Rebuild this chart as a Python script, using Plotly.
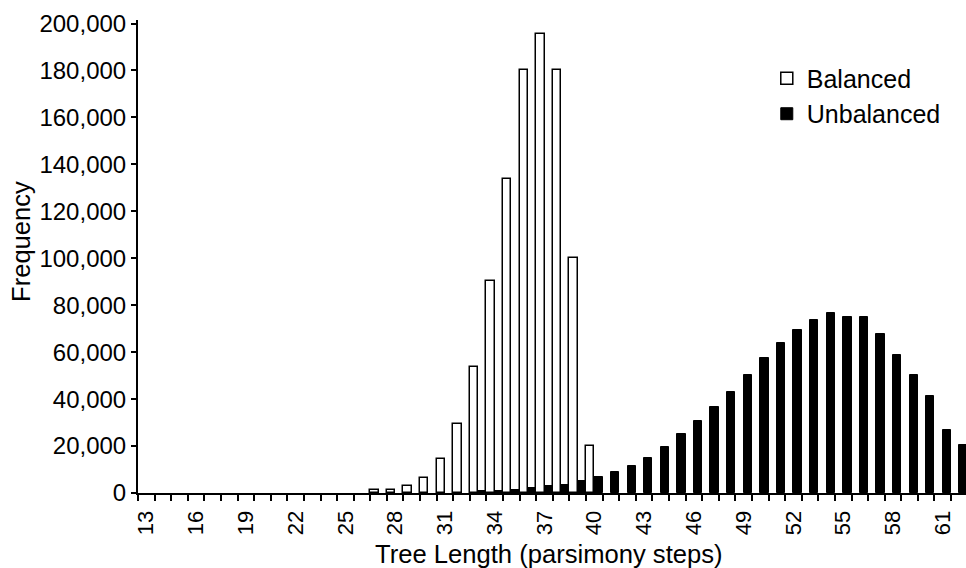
import plotly.graph_objects as go

# Data (None = no bar drawn)
tree_length = list(range(13, 63))
balanced = [None]*14 + [1200, 1200, 2800, 6500, 14600, 29300, 53700, 90200, 133600,
                        180000, 195500, 180000, 100000, 20000] + [None]*22
unbalanced = [None]*20 + [1000, 1000, 1200, 2000, 3000, 3200, 5000, 6800, 9000, 11400,
                          14900, 19600, 25000, 30500, 36700, 43200, 50400, 57600, 64000,
                          69500, 73800, 76600, 74900, 74900, 67600, 58600, 50400, 41200,
                          26700, 20300]
x_tick_vals = list(range(13, 62, 3))
y_tick_vals = list(range(0, 200001, 20000))

FONT = "Liberation Sans, Arial, Helvetica, sans-serif"

fig = go.Figure()
fig.add_trace(go.Bar(x=tree_length, y=balanced, name="Balanced",
                     marker=dict(color="white", line=dict(color="black", width=1.5))))
fig.add_trace(go.Bar(x=tree_length, y=unbalanced, name="Unbalanced",
                     marker=dict(color="black", line=dict(color="black", width=1))))

L, R, T, B = 138, 0, 20, 75
W, H = 966, 568
ph = H - T - B

fig.update_layout(
    width=W, height=H,
    margin=dict(l=L, r=R, t=T, b=B, pad=0),
    paper_bgcolor="white", plot_bgcolor="white",
    barmode="group", bargap=0, bargroupgap=0,
    font=dict(family=FONT, color="black"),
    showlegend=True,
    legend=dict(x=0.7594, y=0.925, xanchor="left", yanchor="top",
                font=dict(size=25, family=FONT), bgcolor="rgba(0,0,0,0)",
                tracegroupgap=0, itemwidth=30),
    xaxis=dict(range=[12.5, 62.4], tickmode="array", tickvals=x_tick_vals,
               tickangle=-90, tickfont=dict(size=22, family=FONT),
               ticks="outside", ticklen=7, tickcolor="rgba(0,0,0,0)",
               showline=True, linecolor="black", linewidth=2,
               showgrid=False, zeroline=False,
               minor=dict(tickmode="array",
                          tickvals=[v + 0.5 for v in range(12, 62)],
                          ticks="outside", ticklen=6, tickwidth=2, tickcolor="black",
                          showgrid=False)),
    yaxis=dict(range=[0, 201500], tickmode="array", tickvals=y_tick_vals,
               tickformat=",d", tickfont=dict(size=24, family=FONT),
               ticks="outside", ticklen=5, tickwidth=2, tickcolor="black",
               showline=True, linecolor="black", linewidth=2,
               showgrid=False, zeroline=False),
)

fig.add_annotation(text="Tree Length (parsimony steps)", xref="paper", yref="paper",
                   x=(549 - L) / (W - L), y=-(554 - (H - B)) / ph,
                   xanchor="center", yanchor="middle", showarrow=False,
                   font=dict(size=25.6, family=FONT))
fig.add_annotation(text="Frequency", xref="paper", yref="paper",
                   x=(21 - L) / (W - L), y=((H - B) - 242) / ph,
                   xanchor="center", yanchor="middle", textangle=-90, showarrow=False,
                   font=dict(size=25.6, family=FONT))

fig.write_html("out.html")
